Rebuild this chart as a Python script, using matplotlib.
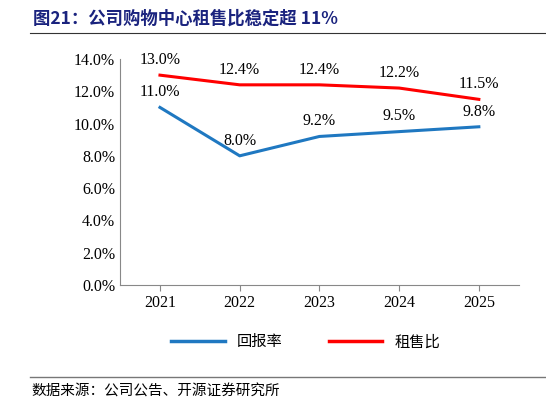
import matplotlib
matplotlib.use("Agg")
import matplotlib.pyplot as plt
from matplotlib.lines import Line2D

years = ["2021", "2022", "2023", "2024", "2025"]
huibao = [11.0, 8.0, 9.2, 9.5, 9.8]
zushou = [13.0, 12.4, 12.4, 12.2, 11.5]
yticks = [0, 2, 4, 6, 8, 10, 12, 14]

serif = ["Liberation Serif", "Noto Sans CJK SC"]
cjk = ["Noto Sans CJK SC", "DejaVu Sans"]

fig = plt.figure(figsize=(5.46, 4.07), dpi=100)
ax = fig.add_axes([0.22, 0.30, 0.73, 0.555])

x = range(len(years))
ax.plot(x, huibao, color="#1F78C1", lw=2.2)
ax.plot(x, zushou, color="#FF0000", lw=2.2)
for i in x:
    ax.text(i, huibao[i] + 0.45, f"{huibao[i]:.1f}%", ha="center", va="bottom",
            fontsize=11.5, family=serif)
    ax.text(i, zushou[i] + 0.45, f"{zushou[i]:.1f}%", ha="center", va="bottom",
            fontsize=11.5, family=serif)

ax.set_xlim(-0.5, 4.5)
ax.set_ylim(0, 14)
ax.set_yticks(yticks)
ax.set_yticklabels([f"{v:.1f}%" for v in yticks], family=serif, fontsize=11.5)
ax.set_xticks(list(x))
ax.set_xticklabels(years, family=serif, fontsize=11.5)
for s in ["top", "right"]:
    ax.spines[s].set_visible(False)
ax.spines["left"].set_color("#888888")
ax.spines["bottom"].set_color("#888888")
ax.tick_params(axis="y", length=0)
ax.tick_params(axis="x", length=4, color="#888888")

handles = [Line2D([], [], color="#1F78C1", lw=2.5), Line2D([], [], color="#FF0000", lw=2.5)]
fig.legend(handles, ["回报率", "租售比"], loc="center", bbox_to_anchor=(0.56, 0.16),
           ncol=2, frameon=False, prop={"family": cjk, "size": 11},
           handlelength=3.5, columnspacing=3)

fig.text(0.06, 0.955, "图21：公司购物中心租售比稳定超 11%", color="#1A237E",
         fontsize=12.5, fontweight="bold", family=cjk, va="center")
fig.add_artist(Line2D([0.055, 1.0], [0.918, 0.918], color="#333333", lw=0.8))
fig.add_artist(Line2D([0.055, 1.0], [0.074, 0.074], color="#777777", lw=1.0))
fig.text(0.058, 0.037, "数据来源：公司公告、开源证券研究所", fontsize=10.5, family=cjk, va="center")

fig.savefig("out.png", dpi=100)
